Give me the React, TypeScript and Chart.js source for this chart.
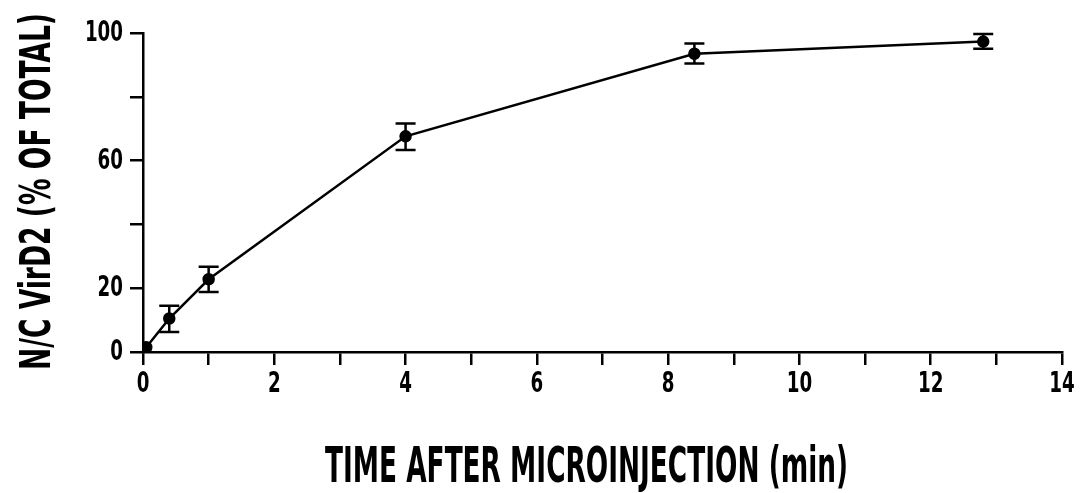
import React, { useEffect, useRef } from "react";
import { Chart, registerables } from "chart.js";
Chart.register(...registerables);

// ---- data ----
const timesMin = [0.05, 0.4, 1, 4, 8.4, 12.8];
const nucPercent = [1.5, 10.5, 22.8, 67.6, 93.5, 97.3];
const errLower = [1.5, 6.3, 18.8, 63.3, 90.4, 95.1];
const errUpper = [1.5, 14.5, 26.7, 71.6, 96.7, 99.7];
const yLabeledTicks = [0, 20, 60, 100];
const xLabeledTicks = [0, 2, 4, 6, 8, 10, 12, 14];
const xTitle = "TIME AFTER MICROINJECTION (min)";
const yTitle = "N/C VirD2 (% OF TOTAL)";

const FAMILY = '"DejaVu Sans Condensed", "DejaVu Sans", sans-serif';

const errorBarPlugin = {
  id: "errorBars",
  afterDatasetsDraw(chart: any) {
    const ctx = chart.ctx;
    const xs = chart.scales.x;
    const ys = chart.scales.y;
    ctx.save();
    ctx.strokeStyle = "#000";
    ctx.lineWidth = 2.5;
    const cap = 10;
    timesMin.forEach((t, i) => {
      if (errUpper[i] - errLower[i] < 0.5) return;
      const px = xs.getPixelForValue(t);
      const pLo = ys.getPixelForValue(errLower[i]);
      const pHi = ys.getPixelForValue(errUpper[i]);
      ctx.beginPath();
      ctx.moveTo(px, pLo);
      ctx.lineTo(px, pHi);
      ctx.moveTo(px - cap, pLo);
      ctx.lineTo(px + cap, pLo);
      ctx.moveTo(px - cap, pHi);
      ctx.lineTo(px + cap, pHi);
      ctx.stroke();
    });
    ctx.restore();
  },
};

function drawScaled(ctx: any, text: string, x: number, y: number, s: number, align: string) {
  ctx.save();
  ctx.translate(x, y);
  ctx.scale(s, 1);
  ctx.textAlign = align;
  ctx.fillText(text, 0, 0);
  ctx.restore();
}

function drawToWidth(ctx: any, text: string, x: number, y: number, targetWidth: number) {
  const w = ctx.measureText(text).width;
  drawScaled(ctx, text, x, y, targetWidth / w, "left");
}

const textPlugin = {
  id: "condensedText",
  afterDraw(chart: any) {
    const ctx = chart.ctx;
    const area = chart.chartArea;
    const xs = chart.scales.x;
    const ys = chart.scales.y;
    ctx.save();
    ctx.fillStyle = "#000";
    ctx.textBaseline = "alphabetic";
    // tick labels
    ctx.font = `bold 29px ${FAMILY}`;
    xs.ticks.forEach((t: any) => {
      if (!xLabeledTicks.includes(t.value)) return;
      drawScaled(ctx, String(t.value), xs.getPixelForValue(t.value), area.bottom + 40, 0.7, "center");
    });
    ys.ticks.forEach((t: any) => {
      if (!yLabeledTicks.includes(t.value)) return;
      drawScaled(ctx, String(t.value), area.left - 20, ys.getPixelForValue(t.value) + 8, 0.7, "right");
    });
    // x title
    ctx.font = `bold 49px ${FAMILY}`;
    drawToWidth(ctx, xTitle, area.left + 182, area.bottom + 130, 523);
    // y title (rotated)
    ctx.font = `bold 42px ${FAMILY}`;
    ctx.save();
    ctx.translate(50, area.bottom + 18);
    ctx.rotate(-Math.PI / 2);
    drawToWidth(ctx, yTitle, 0, 0, 357);
    ctx.restore();
    ctx.restore();
  },
};

export default function App() {
  const ref = useRef<HTMLCanvasElement | null>(null);
  useEffect(() => {
    if (!ref.current) return;
    const chart = new Chart(ref.current, {
      type: "line",
      data: {
        datasets: [
          {
            label: "N/C VirD2",
            data: timesMin.map((t, i) => ({ x: t, y: nucPercent[i] })),
            borderColor: "#000",
            backgroundColor: "#000",
            borderWidth: 2.5,
            pointRadius: 5,
            pointBackgroundColor: "#000",
            pointBorderColor: "#000",
            tension: 0,
            fill: false,
          },
        ],
      },
      options: {
        responsive: false,
        animation: false,
        devicePixelRatio: 1,
        layout: { padding: { left: 88, right: 22, top: 33, bottom: 91 } },
        plugins: { legend: { display: false }, tooltip: { enabled: false }, title: { display: false } },
        scales: {
          x: {
            type: "linear",
            min: 0,
            max: 14,
            border: { color: "#000", width: 2.5 },
            grid: { drawOnChartArea: false, color: "#000", lineWidth: 2.5, tickLength: 13 },
            ticks: {
              stepSize: 1,
              autoSkip: false,
              maxRotation: 0,
              padding: 3,
              color: "rgba(0,0,0,0)",
              font: { family: FAMILY, size: 20, weight: "bold" },
              callback: (v: any) => (xLabeledTicks.includes(Number(v)) ? String(v) : ""),
            },
            afterFit: (s: any) => {
              s.height = 50;
            },
          },
          y: {
            type: "linear",
            min: 0,
            max: 100,
            border: { color: "#000", width: 2.5 },
            grid: { drawOnChartArea: false, color: "#000", lineWidth: 2.5, tickLength: 13 },
            ticks: {
              stepSize: 20,
              autoSkip: false,
              padding: 10,
              color: "rgba(0,0,0,0)",
              font: { family: FAMILY, size: 20, weight: "bold" },
              callback: (v: any) => (yLabeledTicks.includes(Number(v)) ? String(v) : ""),
            },
            afterFit: (s: any) => {
              s.width = 55;
            },
          },
        },
      },
      plugins: [errorBarPlugin, textPlugin],
    } as any);
    return () => chart.destroy();
  }, []);
  return (
    <div style={{ position: "absolute", left: 0, top: 0, width: 1084, height: 493, background: "#fff" }}>
      <canvas ref={ref} width={1084} height={493} style={{ display: "block" }} />
    </div>
  );
}
